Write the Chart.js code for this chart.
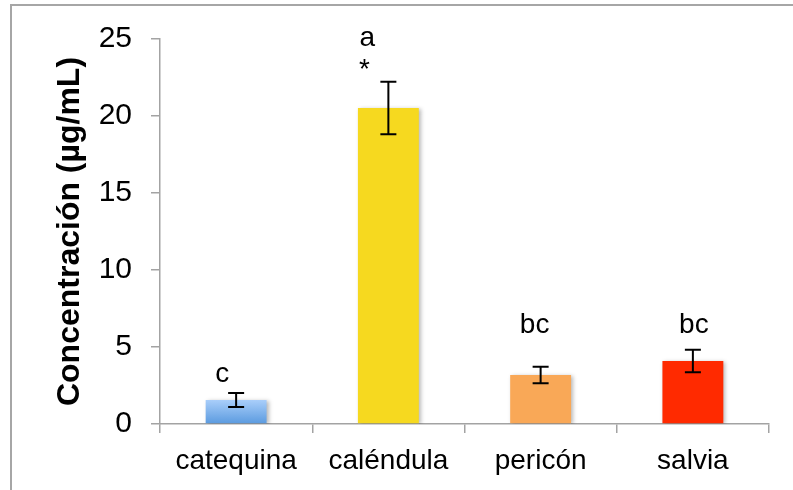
<!DOCTYPE html>
<html>
<head>
<meta charset="utf-8">
<script src="https://cdn.jsdelivr.net/npm/chart.js@4"></script>
<style>
  html, body { margin: 0; padding: 0; background: #fff; }
  #wrap { width: 793px; height: 490px; position: relative; }
  canvas { display: block; }
</style>
</head>
<body>
<div id="wrap"><canvas id="chart" width="793" height="490"></canvas></div>
<script>
// Mean concentration per extract, with standard deviation
const categories = ['catequina', 'caléndula', 'pericón', 'salvia'];
const concentration = [1.56, 20.52, 3.18, 4.09];
const errorSD = [0.46, 1.70, 0.54, 0.73];
const groupLetters = ['c', 'a', 'bc', 'bc'];
const significance = ['', '*', '', ''];
const yTicks = [0, 5, 10, 15, 20, 25];

// Bar fills (first bar uses a vertical blue gradient)
const gradientTop = '#a9cefa';
const gradientBottom = '#5a9adf';
const barColors = [null, '#f6d91f', '#f9a857', '#ff2a00'];

// Where the group letters sit: horizontal nudge (px) and baseline (axis units)
const letterNudge = [-14, -21, -6, 1];
const letterBaseline = [2.73, 24.55, 5.91, 5.91];
const starNudge = [0, -24, 0, 0];
const starBaseline = [0, 22.45, 0, 0];

const AXIS_GREY = '#a3a3a3';
const FONT = 'Liberation Sans, Arial, sans-serif';

const framePlugin = {
  id: 'frame',
  beforeDraw(chart) {
    const c = chart.ctx;
    c.save();
    c.strokeStyle = '#a6a6a6';
    c.lineWidth = 2;
    c.beginPath();
    c.moveTo(11, 490);
    c.lineTo(11, 5);
    c.lineTo(793, 5);
    c.stroke();
    c.restore();
  }
};

const shadowPlugin = {
  id: 'barShadow',
  beforeDatasetDraw(chart) {
    const c = chart.ctx;
    c.save();
    c.shadowColor = 'rgba(0,0,0,0.28)';
    c.shadowBlur = 4;
    c.shadowOffsetX = 2;
    c.shadowOffsetY = 1;
  },
  afterDatasetDraw(chart) {
    chart.ctx.restore();
  }
};

const errorBarPlugin = {
  id: 'errorBars',
  afterDatasetsDraw(chart) {
    const c = chart.ctx;
    const y = chart.scales.y;
    const bars = chart.getDatasetMeta(0).data;
    c.save();
    c.strokeStyle = '#000';
    c.lineWidth = 2;
    bars.forEach((bar, i) => {
      const x = bar.x;
      const top = y.getPixelForValue(concentration[i] + errorSD[i]);
      const bot = y.getPixelForValue(concentration[i] - errorSD[i]);
      const cap = 8;
      c.beginPath();
      c.moveTo(x, top); c.lineTo(x, bot);
      c.moveTo(x - cap, top); c.lineTo(x + cap, top);
      c.moveTo(x - cap, bot); c.lineTo(x + cap, bot);
      c.stroke();
    });
    c.restore();
  }
};

const letterPlugin = {
  id: 'groupLetters',
  afterDatasetsDraw(chart) {
    const c = chart.ctx;
    const y = chart.scales.y;
    const bars = chart.getDatasetMeta(0).data;
    c.save();
    c.fillStyle = '#000';
    c.font = '28px ' + FONT;
    c.textAlign = 'center';
    c.textBaseline = 'alphabetic';
    bars.forEach((bar, i) => {
      if (groupLetters[i]) {
        c.fillText(groupLetters[i], bar.x + letterNudge[i], y.getPixelForValue(letterBaseline[i]));
      }
      if (significance[i]) {
        c.fillText(significance[i], bar.x + starNudge[i], y.getPixelForValue(starBaseline[i]));
      }
    });
    c.restore();
  }
};

new Chart(document.getElementById('chart'), {
  type: 'bar',
  data: {
    labels: categories,
    datasets: [{
      data: concentration,
      backgroundColor(ctx) {
        if (ctx.dataIndex !== 0) return barColors[ctx.dataIndex];
        const chart = ctx.chart;
        const ys = chart.scales.y;
        if (!chart.chartArea || !ys) return gradientBottom;
        const g = chart.ctx.createLinearGradient(0, ys.getPixelForValue(concentration[0]), 0, ys.getPixelForValue(0));
        g.addColorStop(0, gradientTop);
        g.addColorStop(1, gradientBottom);
        return g;
      },
      borderWidth: 0,
      barPercentage: 0.4,
      categoryPercentage: 1.0
    }]
  },
  options: {
    responsive: false,
    animation: false,
    layout: { padding: { left: 30, right: 24, top: 39, bottom: 0 } },
    plugins: {
      legend: { display: false },
      tooltip: { enabled: false }
    },
    scales: {
      x: {
        grid: { display: true, drawOnChartArea: false, offset: true, color: AXIS_GREY, lineWidth: 1.5, tickLength: 9 },
        border: { display: true, color: AXIS_GREY, width: 1.5 },
        ticks: { color: '#000', font: { family: FONT, size: 28 }, padding: 11, maxRotation: 0 },
        afterFit(s) { s.height = 66; }
      },
      y: {
        min: 0,
        max: 25,
        afterBuildTicks(s) { s.ticks = yTicks.map(v => ({ value: v })); },
        grid: { display: true, drawOnChartArea: false, color: AXIS_GREY, lineWidth: 1.5, tickLength: 9 },
        border: { display: true, color: AXIS_GREY, width: 1.5 },
        ticks: { color: '#000', font: { family: FONT, size: 30 }, padding: 19 },
        title: {
          display: true,
          text: 'Concentración (µg/mL)',
          color: '#000',
          font: { family: FONT, size: 32, weight: 'bold' },
          padding: { top: 21, bottom: 0 }
        },
        afterFit(s) { s.width = 130; }
      }
    }
  },
  plugins: [framePlugin, shadowPlugin, errorBarPlugin, letterPlugin]
});
</script>
</body>
</html>
